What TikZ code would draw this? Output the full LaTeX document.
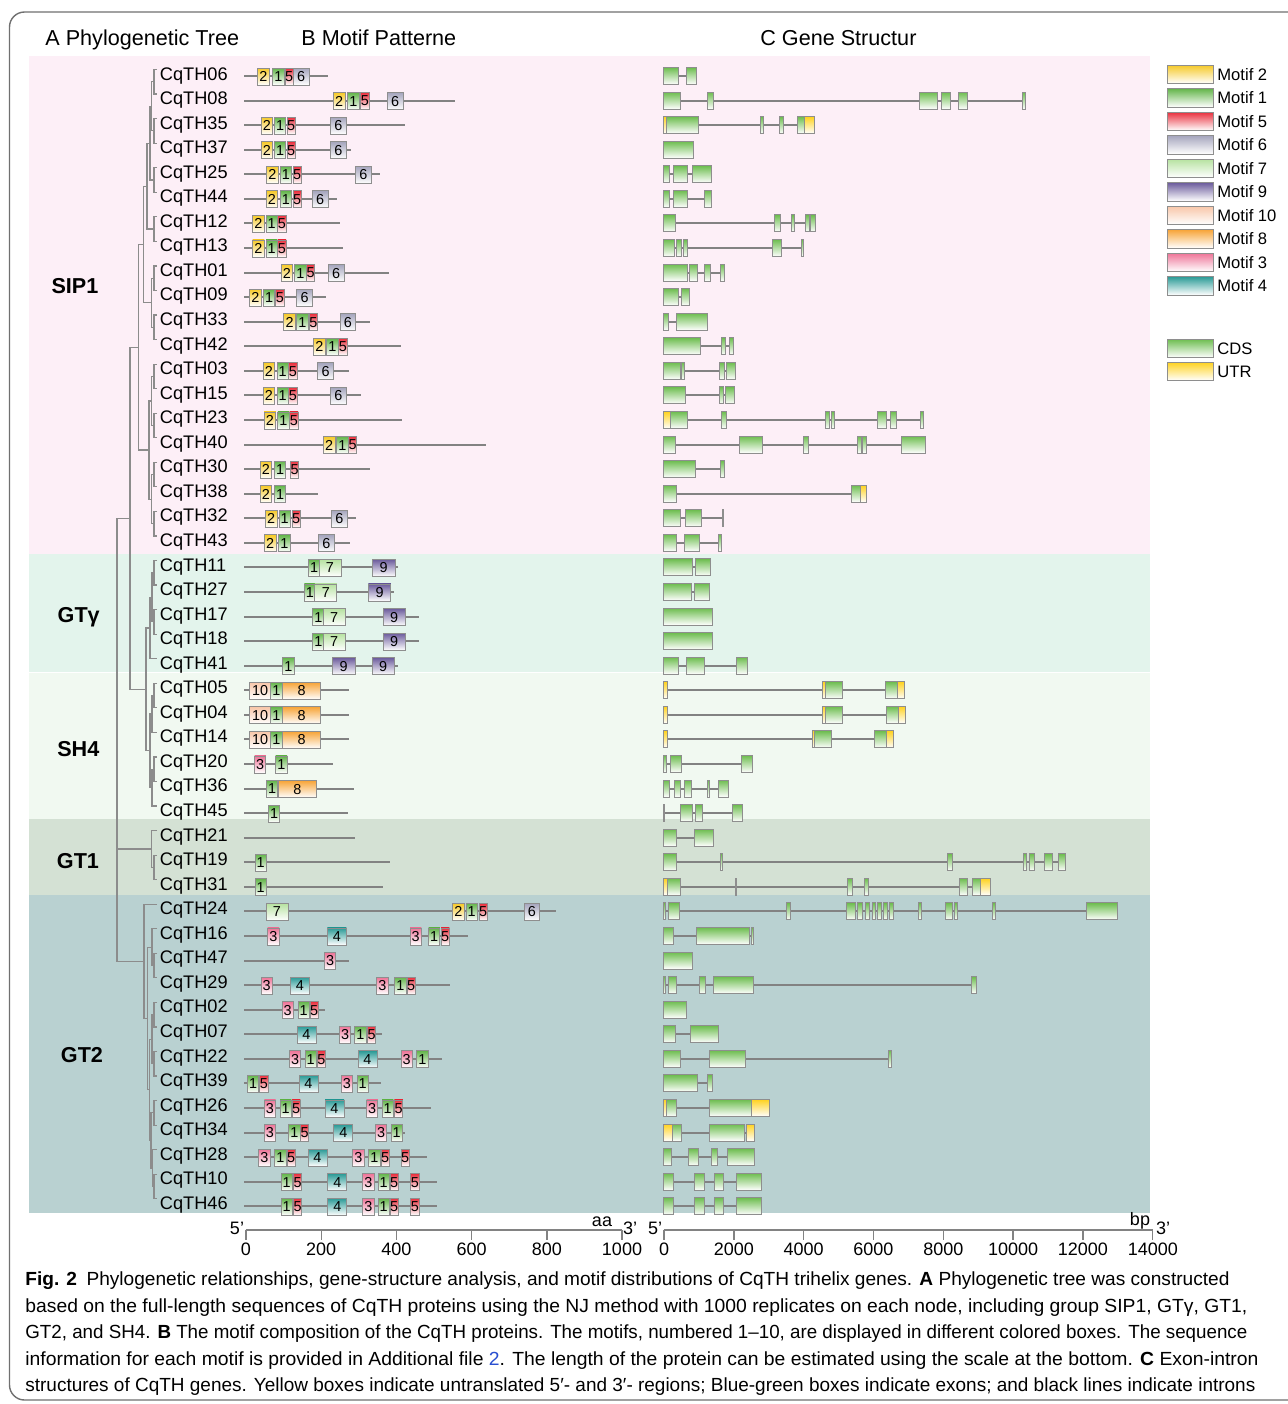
\documentclass[tikz,border=0pt]{standalone}
\usepackage{fontspec}
\setmainfont{Liberation Sans}
\usetikzlibrary{calc}
\definecolor{bandA}{HTML}{FDEFF7}
\definecolor{bandB}{HTML}{E3F4EC}
\definecolor{bandC}{HTML}{F1F9F1}
\definecolor{bandD}{HTML}{D4E1D4}
\definecolor{bandE}{HTML}{B9D1D1}
\definecolor{treegray}{HTML}{8C8C8C}
\definecolor{linegray}{HTML}{828282}
\definecolor{boxgray}{HTML}{8E8E8E}
\definecolor{framegray}{HTML}{707070}
\definecolor{motc1}{HTML}{63B54A}
\definecolor{motc2}{HTML}{F6C928}
\definecolor{motc3}{HTML}{EE7397}
\definecolor{motc4}{HTML}{2A9A96}
\definecolor{motc5}{HTML}{E92F3D}
\definecolor{motc6}{HTML}{A5A5BD}
\definecolor{motc7}{HTML}{B6E2A0}
\definecolor{motc8}{HTML}{F7A437}
\definecolor{motc9}{HTML}{6B5B9C}
\definecolor{motc10}{HTML}{F8C6A8}
\definecolor{gcc}{HTML}{6DBD4F}
\definecolor{gcu}{HTML}{FFD21F}
\definecolor{linkblue}{HTML}{2A4FD0}
\expandafter\def\csname mw1\endcsname{11.4}
\expandafter\def\csname mw2\endcsname{11.8}
\expandafter\def\csname mw3\endcsname{11.3}
\expandafter\def\csname mw4\endcsname{19}
\expandafter\def\csname mw5\endcsname{8.4}
\expandafter\def\csname mw6\endcsname{15.8}
\expandafter\def\csname mw7\endcsname{22}
\expandafter\def\csname mw8\endcsname{37.5}
\expandafter\def\csname mw9\endcsname{22.5}
\expandafter\def\csname mw10\endcsname{21}
\tikzset{
  tree/.style={draw=treegray, line width=0.6pt},
  protline/.style={draw=linegray, line width=1pt},
  intron/.style={draw=linegray, line width=1pt},
  mbox/.style={draw=boxgray, line width=0.45pt, bottom color=white},
  gbox/.style={draw=boxgray, line width=0.5pt, bottom color=white},
  genelab/.style={anchor=base west, font=\fontsize{9.1}{10}\selectfont, inner sep=0pt},
  head/.style={anchor=base west, font=\fontsize{10.8}{12}\selectfont, inner sep=0pt},
  grp/.style={anchor=base, font=\fontsize{10.8}{12}\selectfont\bfseries, inner sep=0pt},
  mnum/.style={font=\fontsize{7.2}{8}\selectfont, inner sep=0pt},
  leg/.style={anchor=base west, font=\fontsize{8.3}{9}\selectfont, inner sep=0pt},
  ticklab/.style={anchor=base, font=\fontsize{9}{10}\selectfont, inner sep=0pt},
  axis/.style={draw=linegray, line width=0.7pt},
  caption/.style={anchor=base west, font=\fontsize{9.5}{11}\selectfont, inner sep=0pt},
}
\newcommand\clade[4]{%
  \coordinate (cx) at (#2,0);
  \draw[tree] (#3) -- (#3 -| cx) -- (#4 -| cx) -- (#4);
  \coordinate (#1) at ($(#3 -| cx)!0.5!(#4 -| cx)$);
}
\newcommand\motifrow[3]{%
  \pgfmathsetmacro\ry{76+24.57*#1}%
  \draw[protline] (244,\ry) -- (#2,\ry);
  \foreach \t/\xx [count=\k] in {#3} {%
    \pgfmathsetmacro\ww{\csname mw\t\endcsname}%
    \draw[mbox, top color=motc\t] (\xx,\ry-8) rectangle ++(\ww,17);
    \node[mnum, name=m#1x\k] at (\xx+\ww/2,\ry+0.5) {\t};
  }%
}
\newcommand\generow[3]{%
  \pgfmathsetmacro\ry{76+24.57*#1}%
  \draw[intron] (663.5,\ry) -- (#2,\ry);
  \foreach \t/\a/\b in {#3} {%
    \draw[gbox, top color=gc\t] (\a,\ry-8.5) rectangle (\b,\ry+8.5);
  }%
}
\begin{document}
\begin{tikzpicture}[x=0.5pt,y=-0.5pt]
\useasboundingbox (0,0) rectangle (1287,1404);
\fill[white] (0,0) rectangle (1287,1404);
% bands
\fill[bandA] (29,56) rectangle (1150,554.3);
\fill[bandB] (29,554.3) rectangle (1150,672.2);
\fill[bandC] (29,673.2) rectangle (1150,819.3);
\fill[bandD] (29,819.3) rectangle (1150,895.3);
\fill[bandE] (29,895.3) rectangle (1150,1213.3);
% frame
\draw[framegray, line width=0.7pt, rounded corners=7.5pt] (9.5,12) rectangle (1310,1400);
% headers
\node[head] (hA) at (45,45) {A Phylogenetic Tree};
\node[head] (hB) at (301,45) {B Motif Patterne};
\node[head] (hC) at (760,45) {C Gene Structur};
% group labels
\node[grp] (gSIP) at (75,293) {SIP1};
\node[grp] (gGTy) at (78.7,622) {GTγ};
\node[grp] (gSH4) at (78.3,756) {SH4};
\node[grp] (gGT1) at (78,868) {GT1};
\node[grp] (gGT2) at (82,1062.5) {GT2};
% gene labels
\foreach \n [count=\k from 0] in {06,08,35,37,25,44,12,13,01,09,33,42,03,15,23,40,30,38,32,43,11,27,17,18,41,05,04,14,20,36,45,21,19,31,24,16,47,29,02,07,22,39,26,34,28,10,46}
  \node[genelab, name=lab\k] at (159.5,80+24.55*\k) {CqTH\n};
% tree leaves
\foreach \i in {0,...,46} \coordinate (L\i) at (157,69.5+24.55*\i);
\clade{a01}{154}{L0}{L1}
\clade{a23}{154}{L2}{L3}
\clade{a45}{154}{L4}{L5}
\clade{a67}{154}{L6}{L7}
\clade{a89}{154}{L8}{L9}
\clade{a1011}{154}{L10}{L11}
\clade{a1213}{154}{L12}{L13}
\clade{a1415}{154}{L14}{L15}
\clade{a1617}{154}{L16}{L17}
\clade{a1819}{154}{L18}{L19}
\clade{b0}{151.5}{a01}{a23}
\clade{b1}{150}{b0}{a45}
\clade{b2}{147}{b1}{a67}
\clade{b3}{151.5}{a89}{a1011}
\clade{b4}{143.5}{b2}{b3}
\clade{b5}{151.5}{a1213}{a1415}
\clade{b6}{151.5}{a1617}{a1819}
\clade{b7}{149}{b5}{b6}
\clade{sip}{138.5}{b4}{b7}
\clade{g2021}{154}{L20}{L21}
\clade{g2223}{154}{L22}{L23}
\clade{g1}{152}{g2021}{g2223}
\clade{gty}{150}{g1}{L24}
\clade{s2526}{154}{L25}{L26}
\clade{s1}{152}{s2526}{L27}
\clade{s2829}{154}{L28}{L29}
\clade{s2}{152}{s2829}{L30}
\clade{sh4}{150}{s1}{s2}
\clade{gs}{146}{gty}{sh4}
\clade{big}{130}{sip}{gs}
\clade{t3233}{154}{L32}{L33}
\clade{gt1}{151.5}{L31}{t3233}
\clade{u3637}{154}{L36}{L37}
\clade{u1}{152}{L35}{u3637}
\clade{u3839}{154}{L38}{L39}
\clade{u4041}{154}{L40}{L41}
\clade{u2}{152}{u3839}{u4041}
\clade{u4243}{154}{L42}{L43}
\clade{u4546}{154}{L45}{L46}
\clade{u3}{152.5}{L44}{u4546}
\clade{u4}{151}{u4243}{u3}
\clade{u5}{149.5}{u2}{u4}
\clade{u6}{147.5}{u1}{u5}
\clade{gt2}{144}{L34}{u6}
\coordinate (rx) at (117,0);
\draw[tree] (big) -- (big -| rx) -- (gt2 -| rx) -- (gt2);
\draw[tree] (gt1) -- (gt1 -| rx);
% motif patterns
\motifrow{0}{328}{2/257.6,1/272.7,5/285,6/293.3}
\motifrow{1}{454.5}{2/333.3,1/347.6,5/360.7,6/387.2}
\motifrow{2}{405}{2/261,1/274.4,5/287,6/330.4}
\motifrow{3}{351}{2/261,1/274.4,5/287,6/330.4}
\motifrow{4}{380}{2/266.4,1/280.3,5/293,6/355.6}
\motifrow{5}{337}{2/266,1/280.3,5/293,6/312.3}
\motifrow{6}{340}{2/252.5,1/266,5/277.8}
\motifrow{7}{343.4}{2/252.5,1/266,5/277.8}
\motifrow{8}{389.3}{2/281.1,1/294.6,5/306.4,6/328.3}
\motifrow{9}{326.2}{2/249.6,1/263.5,5/275.7,6/296.7}
\motifrow{10}{370.4}{2/283.7,1/296.7,5/309.3,6/340}
\motifrow{11}{400.7}{2/313.5,1/326.6,5/338.8}
\motifrow{12}{348.5}{2/263,1/277,5/288.7,6/317.8}
\motifrow{13}{361}{2/263,1/277,5/288.7,6/330.4}
\motifrow{14}{402}{2/264,1/277.8,5/289.6}
\motifrow{15}{486}{2/323.2,1/336.7,5/348.5}
\motifrow{16}{369.5}{2/260,1/274.4,5/290.4}
\motifrow{17}{318.2}{2/260,1/274.4}
\motifrow{18}{355.6}{2/265.2,1/279,5/292,6/331.6}
\motifrow{19}{350.2}{2/264.3,1/278.6,6/318.6}
\motifrow{20}{397.7}{1/308.5,7/319,9/372.5}
\motifrow{21}{393.5}{1/304.3,7/314.8,9/368.3}
\motifrow{22}{418.8}{1/312.7,7/323.2,9/383}
\motifrow{23}{418.8}{1/312.7,7/323.2,9/383}
\motifrow{24}{397.7}{1/282.8,9/332.5,9/372}
\motifrow{25}{348.5}{10/249.6,1/270.6,8/282.8}
\motifrow{26}{348.5}{10/249.6,1/270.6,8/282.8}
\motifrow{27}{348.5}{10/249.6,1/270.6,8/282.8}
\motifrow{28}{332.5}{3/254.6,1/275.7}
\motifrow{29}{353.5}{1/266.4,8/278.6}
\motifrow{30}{347.6}{1/268.5}
\draw[protline] (244,{76+24.57*31}) -- (354.8,{76+24.57*31});
\motifrow{32}{390}{1/255}
\motifrow{33}{383}{1/255}
\motifrow{34}{555.6}{7/266,2/452.4,1/466,5/479,6/524}
\motifrow{35}{468}{3/267.7,4/327.4,3/410,1/428.5,5/441}
\motifrow{36}{348.5}{3/324.5}
\motifrow{37}{449.5}{3/261,4/290.4,3/376.7,1/394.8,5/407}
\motifrow{38}{325}{3/282,1/298,5/310}
\motifrow{39}{382}{4/297,3/339.6,1/354.8,5/367.4}
\motifrow{40}{442}{3/289.6,1/305,5/317.3,4/358,3/401,1/416.7}
\motifrow{41}{381}{1/247.5,5/259.7,4/299,3/341.3,1/357}
\motifrow{42}{431.4}{3/264.3,1/280,5/292,4/325,3/366.6,1/382,5/394.4}
\motifrow{43}{405}{3/264.3,1/288.7,5/300.5,4/333.8,3/375.4,1/391}
\motifrow{44}{427}{3/258.8,1/274.8,5/287,4/308,3/352.7,1/368.7,5/381,5/401}
\motifrow{45}{437}{1/281,5/293.4,4/327.9,3/362.8,1/378,5/390,5/410.8}
\motifrow{46}{437}{1/281,5/293.4,4/327.9,3/362.8,1/378,5/390,5/410.8}
% gene structures
\generow{0}{696.5}{c/663.5/678.4,c/686.6/696.5}
\generow{1}{1025.8}{c/663.5/680.4,c/707/713.4,c/919.8/937,c/941/950,c/958.5/967.6,c/1022.5/1025.8}
\generow{2}{814}{u/663.5/666.8,c/666.8/698.6,c/760.5/763.8,c/779.5/783.6,c/797/804.2,u/804.2/814}
\generow{3}{693.6}{c/663.5/693.6}
\generow{4}{711.4}{c/663.5/669.7,c/673/687.5,c/692.8/711.4}
\generow{5}{711.4}{c/663.5/669.7,c/673.8/687.5,c/704.8/711.4}
\generow{6}{815}{c/663.5/675,c/774/780.3,c/791.4/794.7,c/805/809,c/810/815}
\generow{7}{803.8}{c/663.5/674.2,c/676.3/681.3,c/683/687.5,c/772.9/781,c/801/803.8}
\generow{8}{724.6}{c/663.5/687.9,c/689.5/697.8,c/704/710,c/720.5/724.6}
\generow{9}{689.5}{c/663.5/678.4,c/681.3/689.5}
\generow{10}{707}{c/663.5/668,c/676/707}
\generow{11}{733.7}{c/663.5/700.7,c/721/725.4,c/729/733.7}
\generow{12}{735.3}{c/663.5/680,c/681.7/684,c/719.6/724.6,c/726.6/735.3}
\generow{13}{734.5}{c/663.5/685,c/719.2/723.8,c/725.8/734.5}
\generow{14}{923}{u/663.5/670,c/670/687.5,c/721.3/726.6,c/825.7/829,c/831/834.8,c/877.7/886,c/890.5/896.7,c/920/923}
\generow{15}{925.5}{c/663.5/675,c/739.4/762,c/803.4/808.8,c/857.5/861.2,c/862.8/866.5,c/901.6/925.5}
\generow{16}{724.2}{c/663.5/695.7,c/720/724.2}
\generow{17}{866.5}{c/663.5/676,c/851.3/860,u/860/866.5}
\generow{18}{723}{c/663.5/680,c/685.4/701.5,c/722/723}
\generow{19}{721.7}{c/663.5/676.7,c/684.6/699.4,c/718.4/721.7}
\generow{20}{710}{c/663.5/692.8,c/695/710}
\generow{21}{709}{c/663.5/691.6,c/694/709}
\generow{22}{712.6}{c/663.5/712.6}
\generow{23}{712.6}{c/663.5/712.6}
\generow{24}{747.3}{c/663.5/678.4,c/686.2/704.8,c/736/747.3}
\generow{25}{904.5}{u/663.5/667.2,u/822.8/825.3,c/825.3/842.2,c/885.5/897.9,u/897.9/904.5}
\generow{26}{905.3}{u/663.5/667.2,u/822.8/825.3,c/825.3/842.6,c/886.3/898.7,u/898.7/905.3}
\generow{27}{893.8}{u/663.5/667.2,u/812/814.5,c/814.5/831.5,c/874.4/886.8,u/886.8/893.8}
\generow{28}{752.6}{c/663.5/666,c/670/681.3,c/741.5/752.6}
\generow{29}{728.7}{c/663.5/669.7,c/674.2/680.4,c/684/691.2,c/707/709.7,c/718.4/728.7}
\generow{30}{742.7}{c/663.5/664.8,c/680/692.4,c/695.7/702.3,c/732.4/742.7}
\generow{31}{713.4}{c/663.5/676.7,c/694.5/713.4}
\generow{32}{1065.8}{c/663.5/676.7,c/720.5/722,c/947.8/952.4,c/1023.7/1026.6,c/1029.5/1034,c/1044.4/1052.6,c/1058/1065.8}
\generow{33}{990}{u/663.5/667.6,c/667.6/680,c/735/736.5,c/847/852.5,c/864/868.6,c/959.8/967.2,c/972.6/980,u/980/990}
\generow{34}{1117.4}{c/663.5/665.6,c/668.5/679.6,c/786.5/790.2,c/846/855.4,c/857.9/862,c/865/869,c/872/875.2,c/877.3/881,c/883.9/887.6,c/889.6/893.4,c/918/921,c/945.3/952,c/954.4/957.7,c/992.4/995.7,c/1086.5/1117.4}
\generow{35}{753.5}{c/663.5/673.4,c/696.5/749,c/751.8/753.5}
\generow{36}{692.8}{c/663.5/692.8}
\generow{37}{976}{c/663.5/665.2,c/668/676,c/699.8/705.2,c/713.9/753.5,c/971/976}
\generow{38}{686.2}{c/663.5/686.2}
\generow{39}{718}{c/663.5/675,c/690.8/718}
\generow{40}{891.3}{c/663.5/680.4,c/709/745.6,c/888.4/891.3}
\generow{41}{712.2}{c/663.5/697.4,c/707.3/712.2}
\generow{42}{769}{u/663.5/666,c/666/676.3,c/709.3/751.8,u/751.8/769}
\generow{43}{754.3}{u/663.5/672.2,c/672.2/681.3,c/709.3/744.8,u/746.5/754.3}
\generow{44}{754.7}{c/663.5/671.8,c/688.3/698.6,c/711/717.6,c/727/754.7}
\generow{45}{761.3}{c/663.5/673.4,c/694/704.4,c/714.3/723.8,c/736/761.3}
\generow{46}{761.3}{c/663.5/673.4,c/694/704.4,c/714.3/723.8,c/736/761.3}
% legend
\foreach \t/\lab [count=\k from 0] in {2/Motif 2,1/Motif 1,5/Motif 5,6/Motif 6,7/Motif 7,9/Motif 9,10/Motif 10,8/Motif 8,3/Motif 3,4/Motif 4} {
  \draw[gbox, top color=motc\t] (1167,{65+23.5*\k}) rectangle ++(46,18.5);
  \node[leg, name=leg\k] at (1217,{80+23.5*\k}) {\lab};
}
\draw[gbox, top color=gcc] (1167,339) rectangle ++(46,18.5);
\node[leg] (legCDS) at (1217,354) {CDS};
\draw[gbox, top color=gcu] (1167,362) rectangle ++(46,18.5);
\node[leg] (legUTR) at (1217,377) {UTR};
% aa axis
\draw[axis] (245.5,1230) -- (622,1230);
\foreach \v in {0,200,400,600,800,1000} {
  \draw[axis] ({246+\v*0.376},1230) -- ++(0,10);
  \node[ticklab, name=aa\v] at ({246+\v*0.376},1255) {\v};
}
\node[ticklab, name=aa5] at (237,1234) {5'};
\node[ticklab, name=aaU] at (602,1226) {aa};
\node[ticklab, name=aa3] at (630,1234) {3'};
% bp axis
\draw[axis] (663.5,1230) -- (1153,1230);
\foreach \v in {0,2000,4000,6000,8000,10000,12000,14000} {
  \draw[axis] ({664+\v*0.034907},1230) -- ++(0,10);
  \node[ticklab, name=bp\v] at ({664+\v*0.034907},1255) {\v};
}
\node[ticklab, name=bp5] at (655,1234) {5'};
\node[ticklab, name=bpU] at (1140,1225) {bp};
\node[ticklab, name=bp3] at (1163,1234) {3'};
% caption
\node[caption] (cap1) at (25,1285.5) {\resizebox{602pt}{\height}{\textbf{Fig. 2}\enspace Phylogenetic relationships, gene-structure analysis, and motif distributions of CqTH trihelix genes. \textbf{A} Phylogenetic tree was constructed}};
\node[caption] (cap2) at (25,1312) {\resizebox{611pt}{\height}{based on the full-length sequences of CqTH proteins using the NJ method with 1000 replicates on each node, including group SIP1, GTγ, GT1,}};
\node[caption] (cap3) at (25,1338.5) {\resizebox{611pt}{\height}{GT2, and SH4. \textbf{B} The motif composition of the CqTH proteins. The motifs, numbered 1–10, are displayed in different colored boxes. The sequence}};
\node[caption] (cap4) at (25,1365) {\resizebox{616.5pt}{\height}{information for each motif is provided in Additional file {\color{linkblue}2}. The length of the protein can be estimated using the scale at the bottom. \textbf{C} Exon-intron}};
\node[caption] (cap5) at (25,1391.5) {\resizebox{615pt}{\height}{structures of CqTH genes. Yellow boxes indicate untranslated 5′- and 3′- regions; Blue-green boxes indicate exons; and black lines indicate introns}};
\end{tikzpicture}
\end{document}
